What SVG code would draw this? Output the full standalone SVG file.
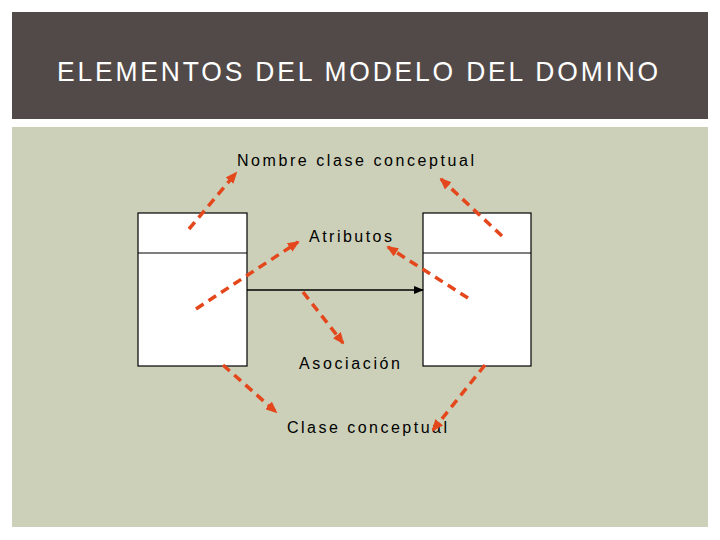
<svg xmlns="http://www.w3.org/2000/svg" width="720" height="540" viewBox="0 0 720 540">
<style>
.title{font-family:"Liberation Sans Narrow","Liberation Sans",Arial,sans-serif;font-size:28px;fill:#ffffff;letter-spacing:3px}
.lbl{font-family:"Liberation Sans",Arial,sans-serif;font-size:16px;fill:#000000}
.box{fill:#ffffff;stroke:#000000;stroke-width:1.2}
.dash{fill:none;stroke:#e4471c;stroke-width:3.5;stroke-dasharray:9 6;marker-end:url(#oh)}
</style>
<defs>
<marker id="oh" markerWidth="12" markerHeight="10" refX="10" refY="5" orient="auto" markerUnits="userSpaceOnUse">
<path d="M0,0 L12,5 L0,10 Z" fill="#e4471c"/>
</marker>
<marker id="bh" markerWidth="10" markerHeight="8" refX="9" refY="4" orient="auto" markerUnits="userSpaceOnUse">
<path d="M0,0 L10,4 L0,8 Z" fill="#000000"/>
</marker>
</defs>
<rect width="720" height="540" fill="#ffffff"/>
<rect x="12" y="12" width="696" height="107" fill="#524a48"/>
<text class="title" x="57" y="81" textLength="604" lengthAdjust="spacingAndGlyphs">ELEMENTOS DEL MODELO DEL DOMINO</text>
<rect x="12" y="127" width="696" height="400" fill="#ccd0b9"/>
<g id="class-left">
<rect class="box" x="138" y="213" width="109" height="153"/>
<line x1="138" y1="253" x2="247" y2="253" stroke="#000" stroke-width="1.2"/>
</g>
<g id="class-right">
<rect class="box" x="423" y="213" width="108" height="153"/>
<line x1="423" y1="253" x2="531" y2="253" stroke="#000" stroke-width="1.2"/>
</g>
<g id="label-nombre"><text class="lbl" x="237" y="166" textLength="237">Nombre clase conceptual</text></g>
<g id="label-atributos"><text class="lbl" x="309" y="242" textLength="83">Atributos</text></g>
<g id="label-asociacion"><text class="lbl" x="299" y="369" textLength="101">Asociación</text></g>
<g id="label-clase"><text class="lbl" x="287" y="433" textLength="160">Clase conceptual</text></g>
<g id="connectors">
<line x1="247" y1="290" x2="423" y2="290" stroke="#000" stroke-width="1.5" marker-end="url(#bh)"/>
<line class="dash" x1="189" y1="229" x2="236" y2="173"/>
<line class="dash" x1="196" y1="309" x2="298" y2="242"/>
<line class="dash" x1="502" y1="236" x2="441" y2="179"/>
<line class="dash" x1="468" y1="298" x2="388" y2="247"/>
<line class="dash" x1="303" y1="292" x2="343" y2="343"/>
<line class="dash" x1="223" y1="365" x2="276" y2="412"/>
<line class="dash" x1="485" y1="365" x2="433" y2="430"/>
</g>
</svg>
